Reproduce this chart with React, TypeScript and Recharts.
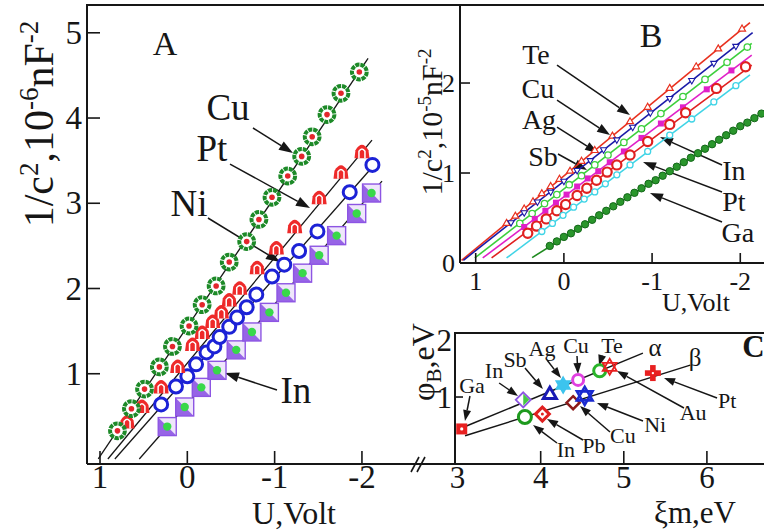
import React from 'react';
import { ScatterChart, Scatter, XAxis, YAxis, ReferenceLine, ReferenceDot } from 'recharts';

const FONT = '"Liberation Serif", "Times New Roman", serif';
const INK = '#161616';

// ---------- panel A : 1/C^2 (10^-6 nF^-2) vs U (V)
const aCuU = [0.80, 0.64, 0.49, 0.32, 0.17, -0.02, -0.17, -0.33, -0.48, -0.68, -0.82, -0.97, -1.15, -1.31, -1.43, -1.60, -1.76, -1.97];
const aCuC = [0.33, 0.59, 0.82, 1.08, 1.32, 1.56, 1.81, 2.03, 2.31, 2.55, 2.81, 3.07, 3.32, 3.55, 3.78, 4.04, 4.29, 4.54];
const aPtU = [0.69, 0.52, 0.30, 0.11, -0.06, -0.17, -0.29, -0.39, -0.48, -0.60, -0.80, -1.02, -1.23, -1.51, -1.76, -2.00];
const aPtC = [0.44, 0.62, 0.85, 1.09, 1.35, 1.49, 1.62, 1.73, 1.87, 2.01, 2.25, 2.48, 2.73, 3.07, 3.37, 3.61];
const aNiU = [0.30, 0.13, 0.00, -0.10, -0.22, -0.31, -0.37, -0.48, -0.57, -0.68, -0.79, -0.97, -1.11, -1.28, -1.49, -1.86, -2.12];
const aNiC = [0.64, 0.85, 0.97, 1.11, 1.25, 1.32, 1.43, 1.55, 1.66, 1.78, 1.93, 2.14, 2.28, 2.44, 2.67, 3.13, 3.45];
const aInU = [0.23, 0.03, -0.16, -0.34, -0.56, -0.74, -0.94, -1.13, -1.32, -1.51, -1.71, -1.94, -2.11];
const aInC = [0.38, 0.61, 0.84, 1.04, 1.28, 1.49, 1.72, 1.95, 2.18, 2.39, 2.62, 2.88, 3.12];

// straight fits drawn through each set
const aCuFitU = [1.02, -2.07];
const aCuFitC = [0, 4.70];
const aPtFitU = [0.91, -2.115];
const aPtFitC = [0, 3.74];
const aNiFitU = [0.83, -2.15];
const aNiFitC = [0, 3.46];
const aInFitU = [0.55, -2.23];
const aInFitC = [0, 3.26];

const aTicksU = [1, 0, -1, -2];
const aTicksC = [1, 2, 3, 4, 5];

const aNoteText = ['A', 'Cu', 'Pt', 'Ni', 'In'];
const aNoteU = [0.256, -0.466, -0.282, -0.019, -1.244];
const aNoteC = [4.739, 3.977, 3.496, 2.850, 0.657];
const aArrowU1 = [-0.752, -0.489, -0.236, -1.027];
const aArrowC1 = [3.883, 3.460, 2.827, 0.809];
const aArrowU2 = [-1.210, -1.405, -1.061, -0.431];
const aArrowC2 = [3.589, 2.944, 2.311, 1.009];

// ---------- panel B : 1/C^2 (10^-5 nF^-2) vs U (V)
const bTeU = [0.65, 0.55, 0.45, 0.35, 0.25, 0.15, 0.05, -0.07, -0.2, -0.35, -0.55, -0.75, -0.95, -1.2, -1.5, -1.75, -2.02];
const bTeC = [0.44, 0.52, 0.60, 0.68, 0.77, 0.85, 0.93, 1.02, 1.13, 1.25, 1.41, 1.57, 1.73, 1.94, 2.18, 2.38, 2.60];
const bCuU = [0.6, 0.45, 0.3, 0.15, 0.0, -0.15, -0.3, -0.45, -0.6, -0.78, -0.98, -1.2, -1.45, -1.7, -1.95];
const bCuC = [0.45, 0.56, 0.68, 0.79, 0.91, 1.03, 1.14, 1.26, 1.37, 1.51, 1.67, 1.83, 2.03, 2.22, 2.41];
const bAgU = [0.5, 0.36, 0.22, 0.08, -0.06, -0.2, -0.35, -0.5, -0.68, -0.88, -1.1, -1.35, -1.6, -1.85, -2.08];
const bAgC = [0.44, 0.55, 0.66, 0.76, 0.87, 0.97, 1.09, 1.20, 1.34, 1.49, 1.66, 1.85, 2.04, 2.23, 2.40];
const bSbU = [0.45, 0.33, 0.21, 0.09, -0.03, -0.15, -0.27, -0.39, -0.52, -0.68, -0.88, -1.1, -1.35, -1.62, -1.9];
const bSbC = [0.40, 0.49, 0.58, 0.67, 0.76, 0.85, 0.94, 1.02, 1.12, 1.24, 1.39, 1.55, 1.73, 1.93, 2.14];
const bInU = [0.41, 0.31, 0.2, 0.08, -0.02, -0.15, -0.26, -0.37, -0.49, -0.6, -0.75, -0.95, -1.2, -1.38, -1.73, -2.06];
const bInC = [0.33, 0.41, 0.49, 0.58, 0.65, 0.75, 0.83, 0.92, 1.01, 1.09, 1.20, 1.35, 1.54, 1.67, 1.94, 2.18];
const bPtU = [0.25, 0.13, 0.01, -0.11, -0.23, -0.35, -0.47, -0.6, -0.75, -0.95, -1.2, -1.45, -1.7, -1.95];
const bPtC = [0.35, 0.44, 0.53, 0.62, 0.71, 0.79, 0.88, 0.98, 1.09, 1.24, 1.42, 1.60, 1.79, 1.97];
const bGaU = [0.16, 0.08, 0.0, -0.08, -0.16, -0.24, -0.32, -0.4, -0.48, -0.56, -0.64, -0.72, -0.8, -0.88, -0.96, -1.04,
  -1.12, -1.2, -1.28, -1.36, -1.44, -1.52, -1.6, -1.68, -1.76, -1.84, -1.92, -2.0, -2.08, -2.16, -2.24];
const bGaC = [0.19, 0.24, 0.29, 0.33, 0.38, 0.43, 0.48, 0.53, 0.58, 0.63, 0.68, 0.73, 0.78, 0.83, 0.88, 0.92,
  0.97, 1.02, 1.07, 1.12, 1.17, 1.22, 1.27, 1.32, 1.37, 1.42, 1.47, 1.52, 1.56, 1.61, 1.66];

const bTeFitU = [1.16, -2.11];
const bTeFitC = [0.03, 2.67];
const bCuFitU = [1.14, -2.14];
const bCuFitC = [0.03, 2.56];
const bAgFitU = [1.01, -2.13];
const bAgFitC = [0.056, 2.44];
const bSbFitU = [0.92, -2.13];
const bSbFitC = [0.056, 2.31];
const bInFitU = [0.82, -2.13];
const bInFitC = [0.056, 2.20];
const bPtFitU = [0.65, -2.11];
const bPtFitC = [0.056, 2.09];
const bGaFitU = [0.36, -2.269];
const bGaFitC = [0.06, 1.68];

const bTicksU = [1, 0, -1, -2];
const bTicksC = [0, 1, 2];

const bNoteText = ['B', 'Te', 'Cu', 'Ag', 'Sb', 'In', 'Pt', 'Ga'];
const bNoteU = [-0.988, 0.316, 0.294, 0.282, 0.237, -1.927, -1.927, -1.972];
const bNoteC = [2.40, 2.211, 1.833, 1.489, 1.078, 0.922, 0.578, 0.233];
const bArrowU1 = [0.078, 0.078, 0.078, 0.067, -1.793, -1.793, -1.793];
const bArrowC1 = [2.2, 1.811, 1.511, 1.211, 1.089, 0.789, 0.456];
const bArrowU2 = [-0.749, -0.523, -0.387, -0.262, -1.09, -0.897, -0.976];
const bArrowC2 = [1.644, 1.422, 1.222, 1.033, 1.4, 1.122, 0.778];

// ---------- panel C : barrier height vs metal work function
const cAlphaMetal = ['Ga', 'In', 'Sb', 'Ag', 'Cu', 'Te', 'Au'];
const cAlphaXi = [3.05, 3.79, 4.11, 4.27, 4.45, 4.71, 4.83];
const cAlphaPhi = [0.44, 0.95, 1.04, 1.21, 1.30, 1.46, 1.53];
const cBetaMetal = ['In', 'Pb', 'Cu', 'Ni', 'Pt'];
const cBetaXi = [3.81, 4.02, 4.39, 4.53, 5.35];
const cBetaPhi = [0.65, 0.70, 0.90, 1.02, 1.42];
const cAlphaFitXi = [3.07, 5.23];
const cAlphaFitPhi = [0.47, 1.77];
const cBetaFitXi = [3.09, 5.80];
const cBetaFitPhi = [0.32, 1.56];

const cTicksXi = [3, 4, 5, 6];
const cTicksPhi = [1, 2];

const cNoteText = ['Ga', 'In', 'Sb', 'Ag', 'Cu', 'Te', 'α', 'β', 'Au', 'Pt', 'Ni', 'Cu', 'Pb', 'In'];
const cNoteXi = [3.173, 3.438, 3.691, 4.016, 4.425, 4.858, 5.377, 5.858, 5.834, 6.243, 5.377, 4.990, 4.641, 4.304];
const cNotePhi = [1.070, 1.333, 1.526, 1.719, 1.772, 1.772, 1.719, 1.544, 0.596, 0.807, 0.386, 0.193, 0.018, -0.053];
const cArrowXi1 = [3.149, 3.50, 3.811, 4.076, 4.437, 4.738, 5.724, 6.122, 5.231, 4.834, 4.509, 4.196];
const cArrowPhi1 = [1.018, 1.246, 1.509, 1.649, 1.719, 1.719, 0.807, 0.982, 0.579, 0.386, 0.246, 0.193];
const cArrowXi2 = [3.089, 3.727, 4.027, 4.244, 4.449, 4.702, 4.918, 5.484, 4.677, 4.473, 4.076, 3.908];
const cArrowPhi2 = [0.579, 1.018, 1.140, 1.333, 1.404, 1.544, 1.456, 1.333, 0.895, 0.842, 0.614, 0.509];

const zip = (xs: number[], ys: number[]) => xs.map((x, i) => ({ x, y: ys[i] }));

// ---------- marker shapes
const noMark = () => <g />;

const ring = (stroke: string, r: number, w: number) => (p: any) => (
  <circle cx={p.cx} cy={p.cy} r={r} fill="#fff" stroke={stroke} strokeWidth={w} />
);
const dot = (fill: string, r: number, stroke?: string) => (p: any) => (
  <circle cx={p.cx} cy={p.cy} r={r} fill={fill} stroke={stroke || 'none'} strokeWidth={1} />
);
const square = (fill: string, h: number) => (p: any) => (
  <rect x={p.cx - h} y={p.cy - h} width={2 * h} height={2 * h} fill={fill} />
);
const triPath = (cx: number, cy: number, r: number, down = false) => {
  const s = down ? -1 : 1;
  return `M${cx},${cy - s * r} L${cx + 0.87 * r},${cy + s * 0.5 * r} L${cx - 0.87 * r},${cy + s * 0.5 * r} Z`;
};
const tri = (stroke: string, r: number, w: number, down = false) => (p: any) => (
  <path d={triPath(p.cx, p.cy, r, down)} fill="#fff" stroke={stroke} strokeWidth={w} />
);
const diamondPath = (cx: number, cy: number, r: number) =>
  `M${cx},${cy - r} L${cx + r},${cy} L${cx},${cy + r} L${cx - r},${cy} Z`;
const diamond = (stroke: string, r: number, w: number, fill = '#fff') => (p: any) => (
  <path d={diamondPath(p.cx, p.cy, r)} fill={fill} stroke={stroke} strokeWidth={w} />
);
const star6 = (color: string, r: number, w: number, filled: boolean) => (p: any) => (
  <g>
    <path d={triPath(p.cx, p.cy, r)} fill={filled ? color : 'none'} stroke={color} strokeWidth={w} />
    <path d={triPath(p.cx, p.cy, r, true)} fill={filled ? color : 'none'} stroke={color} strokeWidth={w} />
  </g>
);

const aCuMark = (p: any) => (
  <g>
    <circle cx={p.cx} cy={p.cy} r={7.4} fill="#fff" stroke="#1d8a28" strokeWidth={4} strokeDasharray="4.2 0.9" />
    <circle cx={p.cx} cy={p.cy} r={2.8} fill="#e3262c" />
  </g>
);
const aPtMark = (p: any) => {
  const { cx, cy } = p;
  return (
    <g>
      <path d={`M${cx - 7.5},${cy + 7} L${cx - 6.5},${cy - 1} Q${cx},${cy - 12} ${cx + 6.5},${cy - 1} L${cx + 7.5},${cy + 7} Z`} fill="#ee2a2a" />
      <path d={`M${cx - 3},${cy + 7} L${cx - 3},${cy} Q${cx},${cy - 4.5} ${cx + 3},${cy} L${cx + 3},${cy + 7}`} fill="none" stroke="#fff" strokeWidth={1.5} />
      <circle cx={cx} cy={cy + 1.5} r={1.4} fill="#ee2a2a" />
    </g>
  );
};
const aInMark = (p: any) => {
  const { cx, cy } = p;
  const h = 9;
  return (
    <g>
      <rect x={cx - h} y={cy - h} width={2 * h} height={2 * h} fill="#efe6fb" stroke="#8d55e3" strokeWidth={1.4} />
      <path d={`M${cx - h},${cy - h} L${cx - h},${cy + h} L${cx + h},${cy + h} Z`} fill="#8d55e3" opacity={0.9} />
      <circle cx={cx} cy={cy} r={4.2} fill="#38d84a" />
    </g>
  );
};

const cMarks: Record<string, (p: any) => React.ReactElement> = {
  'a:Ga': (p: any) => (
    <g>
      <rect x={p.cx - 5.5} y={p.cy - 5.5} width={11} height={11} fill="#e82020" />
      <circle cx={p.cx} cy={p.cy} r={1.6} fill="#fff" />
    </g>
  ),
  'a:In': (p: any) => (
    <g>
      <path d={diamondPath(p.cx, p.cy, 7.5)} fill="#fff" stroke="#8d55e3" strokeWidth={1.8} />
      <path d={`M${p.cx},${p.cy - 6} L${p.cx + 6},${p.cy} L${p.cx},${p.cy + 6} Z`} fill="#44c844" />
    </g>
  ),
  'a:Sb': tri('#1a1ab4', 7.5, 3),
  'a:Ag': star6('#3cc4ee', 8, 1.5, true),
  'a:Cu': ring('#e040e0', 5.5, 3),
  'a:Te': ring('#2ab42a', 6, 3),
  'a:Au': star6('#e82020', 8, 1.8, false),
  'b:In': ring('#1e9a1e', 6.5, 3),
  'b:Pb': (p: any) => (
    <g>
      <path d={diamondPath(p.cx, p.cy, 7)} fill="#fff" stroke="#e02020" strokeWidth={3} />
      <circle cx={p.cx} cy={p.cy} r={1.5} fill="#e02020" />
    </g>
  ),
  'b:Cu': diamond('#8b1a1a', 6.5, 2.5),
  'b:Ni': star6('#1a2ad0', 9, 2.6, false),
  'b:Pt': (p: any) => (
    <g>
      <rect x={p.cx - 8} y={p.cy - 2.8} width={16} height={5.6} fill="#e82020" />
      <rect x={p.cx - 2.8} y={p.cy - 8} width={5.6} height={16} fill="#e82020" />
      <circle cx={p.cx} cy={p.cy} r={1.2} fill="#fff" />
    </g>
  ),
};

// ---------- axis ticks / annotations
const bottomTick = (len: number, gap: number, size: number, noLine: number[] = []) => (p: any) => {
  const v = p.payload.value;
  return (
    <g>
      {!noLine.includes(v) && <line x1={p.x} y1={p.y} x2={p.x} y2={p.y - len} stroke={INK} strokeWidth={1.6} />}
      <text x={p.x} y={p.y + gap} textAnchor="middle" fontFamily={FONT} fontSize={size} fill={INK}>{String(v)}</text>
    </g>
  );
};
const leftTick = (len: number, gap: number, size: number, noLine: number[] = []) => (p: any) => {
  const v = p.payload.value;
  return (
    <g>
      {!noLine.includes(v) && <line x1={p.x} y1={p.y} x2={p.x + len} y2={p.y} stroke={INK} strokeWidth={1.6} />}
      <text x={p.x - gap} y={p.y + size * 0.34} textAnchor="end" fontFamily={FONT} fontSize={size} fill={INK}>{String(v)}</text>
    </g>
  );
};
const arrowShape = (head: number, half: number, w: number) => (p: any) => {
  const x1 = Number(p.x1), y1 = Number(p.y1), x2 = Number(p.x2), y2 = Number(p.y2);
  const L = Math.hypot(x2 - x1, y2 - y1) || 1;
  const ux = (x2 - x1) / L, uy = (y2 - y1) / L;
  const bx = x2 - ux * head, by = y2 - uy * head;
  return (
    <g>
      <line x1={x1} y1={y1} x2={bx} y2={by} stroke={INK} strokeWidth={w} />
      <polygon points={`${x2},${y2} ${bx - uy * half},${by + ux * half} ${bx + uy * half},${by - ux * half}`} fill={INK} />
    </g>
  );
};
const textShape = (t: string, size: number, bold = false) => (p: any) => (
  <text x={p.cx} y={p.cy} textAnchor="middle" fontFamily={FONT} fontSize={size} fontWeight={bold ? 700 : 400} fill={INK}>{t}</text>
);

const axisLine = { stroke: INK, strokeWidth: 2 };

function PanelA() {
  const fits = [
    zip(aCuFitU, aCuFitC), zip(aPtFitU, aPtFitC), zip(aNiFitU, aNiFitC), zip(aInFitU, aInFitC),
  ];
  return (
    <ScatterChart width={460} height={531} margin={{ top: 5, right: 0, bottom: 0, left: 0 }}>
      <XAxis type="number" dataKey="x" domain={[-3.123, 1.149]} reversed allowDataOverflow ticks={aTicksU} interval={0}
        height={67} tickSize={0} tickMargin={0} tickLine={false} axisLine={axisLine} tick={bottomTick(13, 24, 33)} />
      <YAxis type="number" dataKey="y" domain={[-0.059, 5.326]} allowDataOverflow ticks={aTicksC} interval={0}
        width={87} tickSize={0} tickMargin={0} tickLine={false} axisLine={axisLine} tick={leftTick(13, 5, 33)} />
      {fits.map((d, i) => (
        <Scatter key={`af${i}`} data={d} line={{ stroke: INK, strokeWidth: 1.3 }} shape={noMark} isAnimationActive={false} />
      ))}
      <Scatter data={zip(aInU, aInC)} shape={aInMark} isAnimationActive={false} />
      <Scatter data={zip(aNiU, aNiC)} shape={ring('#1c22d6', 6.5, 3)} isAnimationActive={false} />
      <Scatter data={zip(aPtU, aPtC)} shape={aPtMark} isAnimationActive={false} />
      <Scatter data={zip(aCuU, aCuC)} shape={aCuMark} isAnimationActive={false} />
      {aArrowU1.map((u, i) => (
        <ReferenceLine key={`aa${i}`} segment={[{ x: u, y: aArrowC1[i] }, { x: aArrowU2[i], y: aArrowC2[i] }]}
          shape={arrowShape(14, 5, 1.5)} />
      ))}
      {aNoteText.map((t, i) => (
        <ReferenceDot key={`an${i}`} x={aNoteU[i]} y={aNoteC[i]} r={0} shape={textShape(t, i === 0 ? 34 : 37)} />
      ))}
    </ScatterChart>
  );
}

function PanelB() {
  const series = [
    { fit: zip(bTeFitU, bTeFitC), pts: zip(bTeU, bTeC), color: '#e8301e', mark: tri('#e8301e', 4, 1.2) },
    { fit: zip(bCuFitU, bCuFitC), pts: zip(bCuU, bCuC), color: '#1a1aa8', mark: tri('#1a1aa8', 3.6, 1.1, true) },
    { fit: zip(bAgFitU, bAgFitC), pts: zip(bAgU, bAgC), color: '#3ccf3c', mark: ring('#3ccf3c', 3.2, 1.3) },
    { fit: zip(bSbFitU, bSbFitC), pts: zip(bSbU, bSbC), color: '#e020c8', mark: square('#e020c8', 3) },
    { fit: zip(bInFitU, bInFitC), pts: zip(bInU, bInC), color: '#e02020', mark: ring('#e02020', 4.6, 2.2) },
    { fit: zip(bPtFitU, bPtFitC), pts: zip(bPtU, bPtC), color: '#40d4e6', mark: ring('#40d4e6', 3, 1.3) },
    { fit: zip(bGaFitU, bGaFitC), pts: zip(bGaU, bGaC), color: '#1e8a1e', mark: dot('#2a962c', 3.7, '#14681a') },
  ];
  return (
    <ScatterChart width={354} height={320} margin={{ top: 5, right: 0, bottom: 0, left: 0 }}>
      <XAxis type="number" dataKey="x" domain={[-2.269, 1.178]} reversed allowDataOverflow ticks={bTicksU} interval={0}
        height={57} tickSize={0} tickMargin={0} tickLine={false} axisLine={axisLine} tick={bottomTick(10, 27, 26)} />
      <YAxis type="number" dataKey="y" domain={[0, 2.867]} allowDataOverflow ticks={bTicksC} interval={0}
        width={50} tickSize={0} tickMargin={0} tickLine={false} axisLine={axisLine} tick={leftTick(10, 5, 26, [0])} />
      {series.map((s, i) => (
        <Scatter key={`bf${i}`} data={s.fit} line={{ stroke: s.color, strokeWidth: 1.6 }} shape={noMark} isAnimationActive={false} />
      ))}
      {series.map((s, i) => (
        <Scatter key={`bp${i}`} data={s.pts} shape={s.mark} isAnimationActive={false} />
      ))}
      {bArrowU1.map((u, i) => (
        <ReferenceLine key={`ba${i}`} segment={[{ x: u, y: bArrowC1[i] }, { x: bArrowU2[i], y: bArrowC2[i] }]}
          shape={arrowShape(13, 4.5, 1.5)} />
      ))}
      {bNoteText.map((t, i) => (
        <ReferenceDot key={`bn${i}`} x={bNoteU[i]} y={bNoteC[i]} r={0} shape={textShape(t, i === 0 ? 34 : 28)} />
      ))}
    </ScatterChart>
  );
}

function PanelC() {
  return (
    <ScatterChart width={359} height={211} margin={{ top: 13, right: 0, bottom: 0, left: 0 }}>
      <XAxis type="number" dataKey="x" domain={[2.969, 6.687]} allowDataOverflow ticks={cTicksXi} interval={0}
        height={67} tickSize={0} tickMargin={0} tickLine={false} axisLine={axisLine} tick={bottomTick(13, 24, 31, [3])} />
      <YAxis type="number" dataKey="y" domain={[-0.175, 2.123]} allowDataOverflow ticks={cTicksPhi} interval={0}
        width={50} tickSize={0} tickMargin={0} tickLine={false} axisLine={axisLine} tick={leftTick(8, 3, 31, [2])} />
      <Scatter data={zip(cAlphaFitXi, cAlphaFitPhi)} line={{ stroke: INK, strokeWidth: 1.5 }} shape={noMark} isAnimationActive={false} />
      <Scatter data={zip(cBetaFitXi, cBetaFitPhi)} line={{ stroke: INK, strokeWidth: 1.5 }} shape={noMark} isAnimationActive={false} />
      {cArrowXi1.map((u, i) => (
        <ReferenceLine key={`ca${i}`} segment={[{ x: u, y: cArrowPhi1[i] }, { x: cArrowXi2[i], y: cArrowPhi2[i] }]}
          shape={arrowShape(11, 4, 1.5)} />
      ))}
      {cAlphaMetal.map((m, i) => (
        <Scatter key={`cam${i}`} data={[{ x: cAlphaXi[i], y: cAlphaPhi[i] }]} shape={cMarks[`a:${m}`]} isAnimationActive={false} />
      ))}
      {cBetaMetal.map((m, i) => (
        <Scatter key={`cbm${i}`} data={[{ x: cBetaXi[i], y: cBetaPhi[i] }]} shape={cMarks[`b:${m}`]} isAnimationActive={false} />
      ))}
      {cNoteText.map((t, i) => (
        <ReferenceDot key={`cn${i}`} x={cNoteXi[i]} y={cNotePhi[i]} r={0} shape={textShape(t, t === 'α' || t === 'β' ? 25 : 22)} />
      ))}
      <ReferenceDot x={6.56} y={1.70} r={0} shape={textShape('C', 31, true)} />
    </ScatterChart>
  );
}

export default function App() {
  return (
    <div style={{ position: 'absolute', left: 0, top: 0, width: 764, height: 531, background: '#fff', overflow: 'hidden' }}>
      <div style={{ position: 'absolute', left: 0, top: 0 }}><PanelA /></div>
      <div style={{ position: 'absolute', left: 410, top: 0 }}><PanelB /></div>
      <div style={{ position: 'absolute', left: 405, top: 320 }}><PanelC /></div>
      <svg width={764} height={531} style={{ position: 'absolute', left: 0, top: 0, pointerEvents: 'none' }}>
        <line x1={86} y1={5} x2={764} y2={5} stroke={INK} strokeWidth={2} />
        <line x1={454} y1={333} x2={764} y2={333} stroke={INK} strokeWidth={2} />
        <line x1={411} y1={472} x2={419} y2={457} stroke={INK} strokeWidth={1.6} />
        <line x1={417} y1={472} x2={425} y2={457} stroke={INK} strokeWidth={1.6} />
        <text transform="translate(53,124) rotate(-90)" textAnchor="middle" fontFamily={FONT} fontSize={42} fill={INK}>
          1/c<tspan dy={-15} fontSize={27}>2</tspan><tspan dy={15}>,10</tspan><tspan dy={-15} fontSize={27}>-6</tspan>
          <tspan dy={15}>nF</tspan><tspan dy={-15} fontSize={27}>-2</tspan>
        </text>
        <text x={294} y={524} textAnchor="middle" fontFamily={FONT} fontSize={32} fill={INK}>U,Volt</text>
        <text transform="translate(442,122) rotate(-90)" textAnchor="middle" fontFamily={FONT} fontSize={30} fill={INK}>
          1/c<tspan dy={-11} fontSize={19}>2</tspan><tspan dy={11}>,10</tspan><tspan dy={-11} fontSize={19}>-5</tspan>
          <tspan dy={11}>nF</tspan><tspan dy={-11} fontSize={19}>-2</tspan>
        </text>
        <text x={696} y={311} textAnchor="middle" fontFamily={FONT} fontSize={26} fill={INK}>U,Volt</text>
        <text transform="translate(434,362) rotate(-90)" textAnchor="middle" fontFamily={FONT} fontSize={32} fill={INK}>
          φ<tspan dy={7} fontSize={21}>B</tspan><tspan dy={-7}>,eV</tspan>
        </text>
        <text x={695} y={523} textAnchor="middle" fontFamily={FONT} fontSize={31} fill={INK}>ξm,eV</text>
      </svg>
    </div>
  );
}
